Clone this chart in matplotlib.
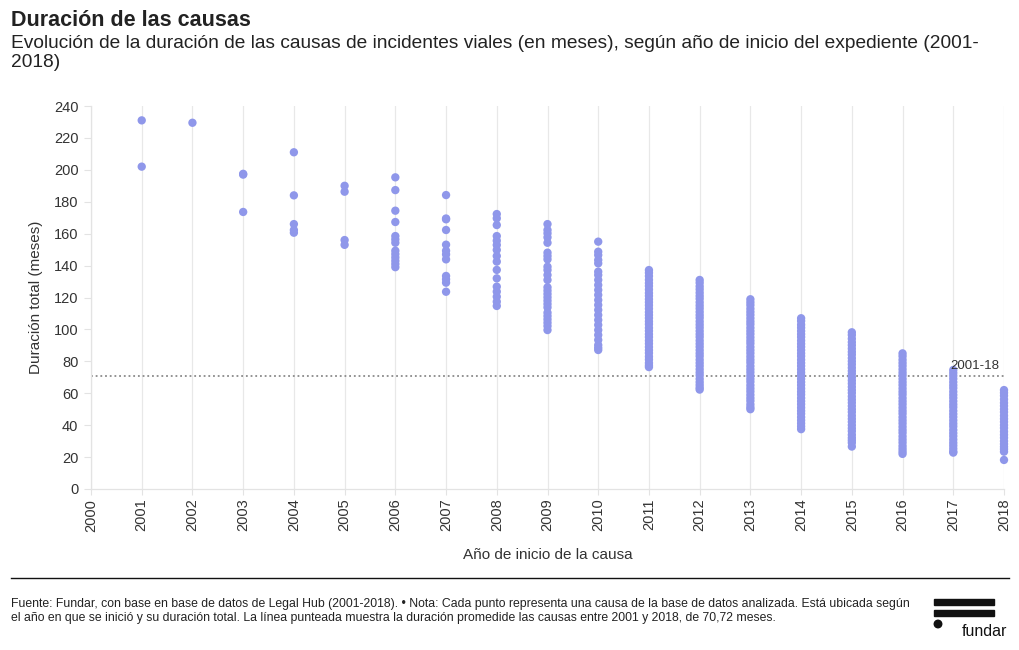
import matplotlib.pyplot as plt
from matplotlib.patches import Rectangle, Ellipse
from matplotlib.lines import Line2D

plt.rcParams['font.family'] = ['Liberation Sans Narrow', 'Liberation Sans', 'DejaVu Sans']

# duración (meses) de cada causa, por año de inicio
years = [2001, 2002, 2003, 2004, 2005, 2006, 2007, 2008, 2009, 2010,
         2011, 2012, 2013, 2014, 2015, 2016, 2017, 2018]
durations = {
    2001: [231, 202],
    2002: [229.5],
    2003: [197.5, 197, 173.6],
    2004: [211, 184, 166, 162.3, 160.6],
    2005: [190, 186.3, 156, 153],
    2006: [195.3, 187.3, 174.4, 167.3, 158.5, 156.4, 154.3, 149.3, 147.2,
           145.1, 143, 141, 139],
    2007: [184.2, 169.5, 169, 162.3, 153.1, 149.3, 147, 143.9, 133.5, 131.4,
           129.3, 123.6],
    2008: [172.3, 169.6, 165.4, 158.5, 155.6, 152.9, 149.8, 146, 142.5, 137.3,
           132, 126.8, 123.7, 120.5, 117.4, 114.7],
    2009: [166, 162.3, 160.2, 157.7, 154.3, 148.1, 146, 143.9, 139.3, 137.2,
           134.1, 131, 126.4, 124.3, 122.2, 120.1, 118, 115.9, 113.8, 110.5,
           108.4, 106.3, 104.2, 102.1, 99.6],
    2010: [155, 148.7, 146.6, 143.5, 141.4, 136.2, 134.1, 131, 127.8, 124.7,
           121.6, 118.4, 115.3, 112.2, 109, 105.9, 102.8, 99.6, 96.5, 93.4,
           90.2, 88.5, 87.1],
    2011: [137.2, 135.5, 133.4, 131.1, 129, 127.2, 125, 122.8, 121, 118.9,
           117, 115.1, 113, 110.8, 109, 107.1, 105, 103.2, 101, 99.1, 97,
           95.2, 93, 91.1, 89, 87, 85.2, 83, 81.1, 79, 77.5, 76.4],
    2012: [131, 129.2, 127, 125.1, 123, 121, 119.2, 117, 115, 113.1, 111,
           109, 107.2, 105, 103, 101.1, 99, 97, 95.2, 93, 91, 89.1, 87, 85,
           83.2, 81, 79, 77.1, 75, 73, 71.2, 69, 67, 65.2, 63.5, 62.3],
    2013: [118.9, 117, 115.2, 113, 111, 109.1, 107, 105, 103.2, 101, 99,
           97.1, 95, 93, 91.2, 89, 87, 85.1, 83, 81, 79.2, 77, 75, 73.1, 71,
           69, 67.2, 65, 63, 61.1, 59, 57, 55.2, 53, 51.2, 50],
    2014: [107, 105.3, 103, 101.1, 99, 97, 95.2, 93, 91, 89.1, 87, 85, 83.2,
           81, 79, 77.1, 75, 73, 71.2, 69, 67, 65.1, 63, 61, 59.2, 57, 55,
           53.1, 51, 49, 47.2, 45, 43, 41.1, 39.2, 37.5],
    2015: [98.2, 96.5, 94.2, 92, 90.1, 88, 86, 84.2, 82, 80, 78.1, 76, 74,
           72.2, 70, 68, 66.1, 64, 62, 60.2, 58, 56, 54.1, 52, 50, 48.2, 46,
           44, 42.1, 40, 38, 36.2, 34, 32.1, 30.5, 29, 26.6],
    2016: [85, 83.2, 81, 79, 77.1, 75, 73, 71.2, 69, 67, 65.1, 63, 61, 59.2,
           57, 55, 53.1, 51, 49, 47.2, 45, 43, 41.1, 39, 37, 35.2, 33, 31,
           29.1, 27, 25.2, 23.5, 22],
    2017: [74.6, 72.8, 71, 69.1, 67, 65, 63.2, 61, 59, 57.1, 55, 53, 51.2,
           49, 47, 45.1, 43, 41, 39.2, 37, 35, 33.1, 31, 29, 27.2, 25.3, 23.5,
           22.8],
    2018: [62, 60.3, 58.5, 56.2, 54, 52.1, 50, 48.2, 46, 44, 42.1, 40, 38.2,
           36, 34, 32.1, 30, 28.2, 26.5, 25, 23.4, 18.2],
}
promedio = 70.72
xticks = list(range(2000, 2019))
yticks = list(range(0, 241, 20))

fig = plt.figure(figsize=(10.2, 6.5), dpi=100)
ax = fig.add_axes([91 / 1020, 1 - 489 / 650, 913 / 1020, 383 / 650])

for yr in years:
    vals = durations[yr]
    ax.scatter([yr] * len(vals), vals, s=36, color='#8f97ea', edgecolors='none',
               zorder=3, clip_on=False)

ax.axhline(promedio, color='#8a8a8a', linestyle=(0, (1, 1.6)), linewidth=1.3,
           zorder=2)
ax.text(2017.9, promedio + 2.5, '2001-18', ha='right', va='bottom', fontsize=9.5,
        color='#333333', family=['Liberation Sans', 'DejaVu Sans'])

ax.set_xlim(2000, 2018)
ax.set_ylim(0, 240)
ax.set_xticks(xticks)
ax.set_xticklabels([str(t) for t in xticks], rotation=90)
ax.set_yticks(yticks)
ax.grid(axis='x', color='#e8e8e8', linewidth=0.9, zorder=0)
ax.grid(axis='y', visible=False)
for side in ['top', 'right']:
    ax.spines[side].set_visible(False)
for side in ['left', 'bottom']:
    ax.spines[side].set_color('#e3e3e3')
    ax.spines[side].set_linewidth(0.9)
ax.tick_params(axis='y', colors='#e3e3e3', labelcolor='#333333', length=5,
               labelsize=10.5, pad=4)
ax.tick_params(axis='x', colors='#e3e3e3', labelcolor='#333333', length=4,
               labelsize=10.5, pad=3)
for lab in ax.get_xticklabels() + ax.get_yticklabels():
    lab.set_family(['Liberation Sans', 'DejaVu Sans'])

ax.set_ylabel('Duración total (meses)', fontsize=11, color='#333333', labelpad=8,
              family=['Liberation Sans', 'DejaVu Sans'])
ax.set_xlabel('Año de inicio de la causa', fontsize=11, color='#333333', labelpad=12,
              family=['Liberation Sans', 'DejaVu Sans'])

# títulos
fig.text(11 / 1020, 1 - 20 / 650, 'Duración de las causas', fontsize=15.5,
         fontweight='bold', color='#222222', va='center')
fig.text(11 / 1020, 1 - 53 / 650,
         'Evolución de la duración de las causas de incidentes viales (en meses), '
         'según año de inicio del expediente (2001-\n2018)',
         fontsize=13.75, color='#222222', va='center', linespacing=1.14)

# separador y pie
fig.add_artist(Line2D([11 / 1020, 1009 / 1020], [1 - 578 / 650] * 2,
                      color='#111111', linewidth=1))
fig.text(11 / 1020, 1 - 611 / 650,
         'Fuente: Fundar, con base en base de datos de Legal Hub (2001-2018). • Nota: '
         'Cada punto representa una causa de la base de datos analizada. Está ubicada según\n'
         'el año en que se inició y su duración total. La línea punteada muestra la '
         'duración promedide las causas entre 2001 y 2018, de 70,72 meses.',
         fontsize=8.85, color='#222222', va='center', linespacing=1.2)

# logo fundar
fig.add_artist(Rectangle((934 / 1020, 1 - 605 / 650), 60 / 1020, 6.5 / 650,
                         color='#111111', transform=fig.transFigure))
fig.add_artist(Rectangle((934 / 1020, 1 - 616 / 650), 60 / 1020, 6.5 / 650,
                         color='#111111', transform=fig.transFigure))
fig.add_artist(Ellipse((938 / 1020, 1 - 624 / 650), 7.5 / 1020, 7.5 / 650,
                       color='#111111', transform=fig.transFigure))
fig.text(962 / 1020, 1 - 631 / 650, 'fundar', fontsize=11.5, color='#111111',
         va='center', family=['Liberation Sans', 'DejaVu Sans'])

fig.savefig('out.png', dpi=100)
